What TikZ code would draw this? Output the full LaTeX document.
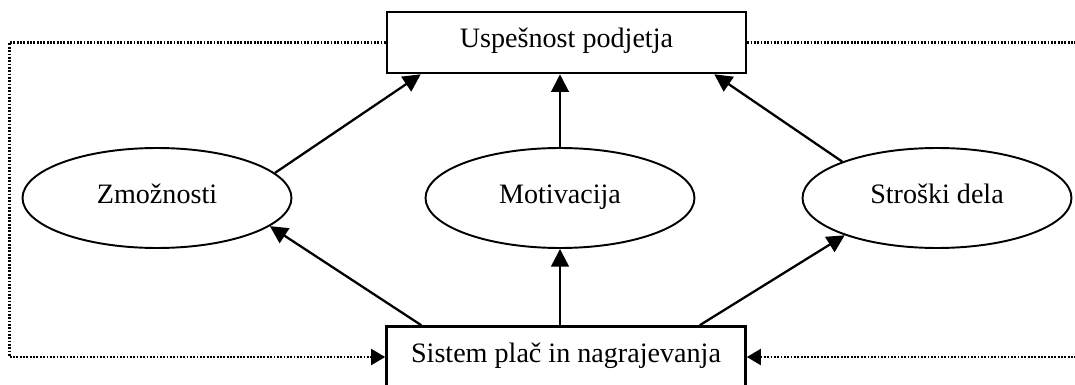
\documentclass[tikz,border=0pt]{standalone}
\usepackage{fontspec}
\setmainfont{Liberation Serif}
\usepackage{tikz}
\usetikzlibrary{shapes.geometric}
\usetikzlibrary{arrows.meta}
\tikzstyle{Box}=[rectangle,draw,line width=1.5pt,minimum width=7.18cm,
minimum height=1.22cm,inner sep=0pt,text height=0.66em,text depth=0.05em,
font=\fontsize{16}{19}\selectfont]
\tikzstyle{Oval}=[ellipse,draw,line width=1.1pt,minimum width=5.38cm,
minimum height=2cm,inner sep=0pt,text height=0.66em,text depth=0.05em,
font=\fontsize{16}{19}\selectfont]
\tikzstyle{Edge}=[draw,line width=1.3pt,-{Triangle[length=10pt,width=10pt]}]
\tikzstyle{Loop}=[draw,line width=1.5pt,dash pattern=on 1pt off 0.9pt,
-{Triangle[length=8pt,width=9pt]}]

\begin{document}
\begin{tikzpicture}[x=0.02cm,y=-0.02cm]
            \useasboundingbox(0,0)rectangle(1075,385);
            \node[Box](usp)at(566.5,42.5){Uspešnost podjetja};
            \node[Box](sis)at(566,357){Sistem plač in nagrajevanja};
            \node[Oval](zmo)at(157,198){Zmožnosti};
            \node[Oval](mot)at(560,198){Motivacija};
            \node[Oval](str)at(937,198){Stroški dela};
            \coordinate(lx)at(9.5,200);
            \coordinate(rx)at(1095,200);
            \draw[Edge](zmo.12)--([xshift=0.7cm]usp.south west);
            \draw[Edge](mot.north)--(mot.north|-usp.south);
            \draw[Edge](str.159)--([xshift=-0.66cm]usp.south east);
            \draw[Edge]([xshift=0.72cm]sis.north west)--(zmo.-14);
            \draw[Edge](mot.south|-sis.north)--(mot.south);
            \draw[Edge]([xshift=-0.94cm]sis.north east)--(str.202);
            \draw[Loop](usp.west)-|(lx|-sis.west)--(sis.west);
            \draw[Loop](usp.east)-|(rx|-sis.east)--(sis.east);
        \end{tikzpicture}
\end{document}
